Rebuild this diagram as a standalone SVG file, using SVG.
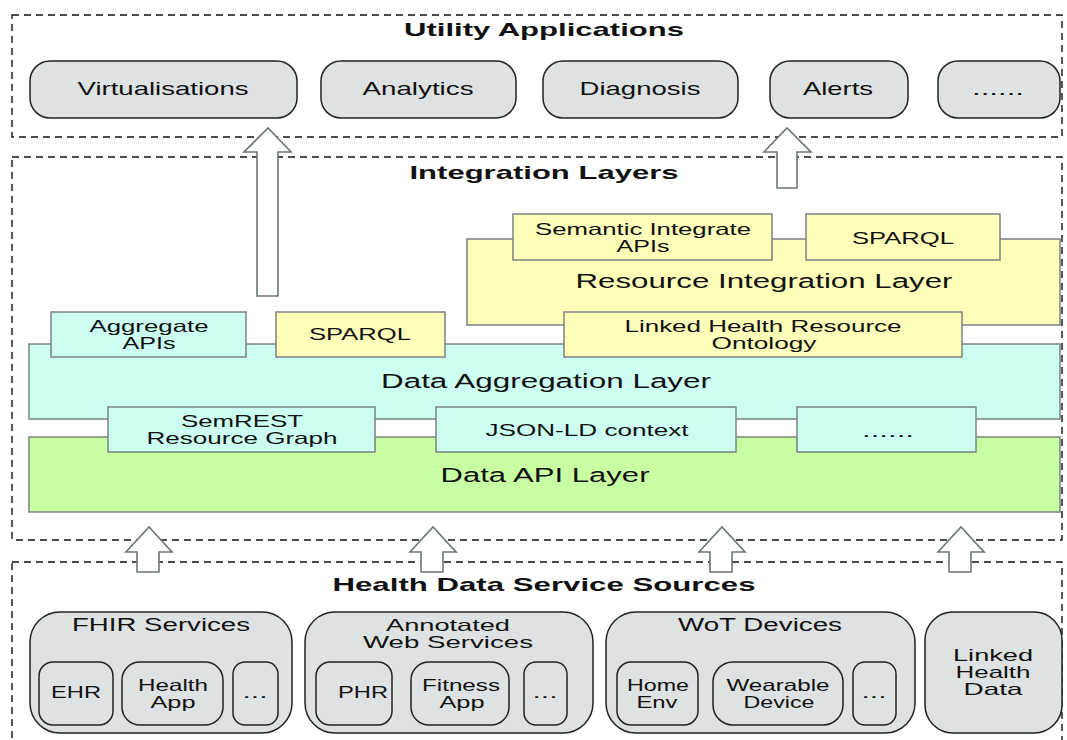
<svg xmlns="http://www.w3.org/2000/svg" width="1067" height="740" viewBox="0 0 1067 740">
  <style>
    text { font-family: "Liberation Sans", Arial, sans-serif; fill: #111; text-anchor: middle; }
    .title { font-weight: bold; font-size: 19px; }
    .app { font-size: 19px; }
    .layer-txt { font-size: 20px; }
    .box-txt { font-size: 16.5px; }
    .src-txt { font-size: 18px; }
    .src-multi { font-size: 16.5px; }
    .inner-txt { font-size: 16.5px; }
    .zone { fill: none; stroke: #111; stroke-width: 1.4; stroke-dasharray: 7 5; }
    .pill { fill: #dfe2e2; stroke: #222; stroke-width: 1.5; }
    .cyan { fill: #ccfff2; stroke: #7a8282; stroke-width: 1.5; }
    .yellow { fill: #ffffb9; stroke: #7a8282; stroke-width: 1.5; }
    .green { fill: #c9ffa3; stroke: #7a8282; stroke-width: 1.5; }
    .harrow { fill: #ffffff; stroke: #6d7676; stroke-width: 1.6; stroke-linejoin: miter; }
  </style>

  <rect width="1067" height="740" fill="#ffffff"/>

  <!-- Zone frames -->
  <g id="zones">
    <rect class="zone" x="12" y="15" width="1050" height="122"/>
    <rect class="zone" x="12" y="157" width="1050" height="383"/>
    <rect class="zone" x="12" y="562" width="1050" height="190"/>
  </g>

  <!-- Utility Applications -->
  <g id="utility-applications">
    <text class="title" x="544" y="36" textLength="280" lengthAdjust="spacingAndGlyphs">Utility Applications</text>
    <g id="app-virtualisations">
      <rect class="pill" x="30" y="61" width="267" height="57" rx="20"/>
      <text class="app" x="163" y="95" textLength="171" lengthAdjust="spacingAndGlyphs">Virtualisations</text>
    </g>
    <g id="app-analytics">
      <rect class="pill" x="321" y="61" width="195" height="57" rx="20"/>
      <text class="app" x="418" y="95" textLength="111" lengthAdjust="spacingAndGlyphs">Analytics</text>
    </g>
    <g id="app-diagnosis">
      <rect class="pill" x="543" y="61" width="195" height="57" rx="20"/>
      <text class="app" x="640" y="95" textLength="121" lengthAdjust="spacingAndGlyphs">Diagnosis</text>
    </g>
    <g id="app-alerts">
      <rect class="pill" x="770" y="61" width="138" height="57" rx="20"/>
      <text class="app" x="838" y="95" textLength="70" lengthAdjust="spacingAndGlyphs">Alerts</text>
    </g>
    <g id="app-more">
      <rect class="pill" x="938" y="61" width="122" height="57" rx="20"/>
      <text class="app" x="998" y="95" textLength="52" lengthAdjust="spacingAndGlyphs">......</text>
    </g>
  </g>

  <!-- Integration Layers -->
  <g id="integration-layers">
    <text class="title" x="544" y="179" textLength="269" lengthAdjust="spacingAndGlyphs">Integration Layers</text>

    <g id="data-api-layer">
      <rect class="green" x="29" y="437" width="1031" height="75"/>
      <text class="layer-txt" x="545" y="482" textLength="209" lengthAdjust="spacingAndGlyphs">Data API Layer</text>
    </g>

    <g id="data-aggregation-layer">
      <rect class="cyan" x="29" y="344" width="1031" height="75"/>
      <text class="layer-txt" x="546" y="388" textLength="330" lengthAdjust="spacingAndGlyphs">Data Aggregation Layer</text>
    </g>

    <g id="semrest-graph">
      <rect class="cyan" x="108" y="407" width="267" height="45"/>
      <text class="box-txt" x="242" y="427" textLength="122" lengthAdjust="spacingAndGlyphs">SemREST</text>
      <text class="box-txt" x="242" y="444" textLength="191" lengthAdjust="spacingAndGlyphs">Resource Graph</text>
    </g>
    <g id="jsonld-context">
      <rect class="cyan" x="436" y="407" width="300" height="45"/>
      <text class="box-txt" x="587" y="436" textLength="203" lengthAdjust="spacingAndGlyphs">JSON-LD context</text>
    </g>
    <g id="api-more">
      <rect class="cyan" x="797" y="407" width="179" height="45"/>
      <text class="box-txt" x="888" y="437" textLength="52" lengthAdjust="spacingAndGlyphs">......</text>
    </g>

    <g id="resource-integration-layer">
      <rect class="yellow" x="467" y="239" width="593" height="86"/>
      <text class="layer-txt" x="764" y="288" textLength="377" lengthAdjust="spacingAndGlyphs">Resource Integration Layer</text>
    </g>
    <g id="semantic-integrate-apis">
      <rect class="yellow" x="513" y="214" width="259" height="46"/>
      <text class="box-txt" x="643" y="235" textLength="216" lengthAdjust="spacingAndGlyphs">Semantic Integrate</text>
      <text class="box-txt" x="643" y="252" textLength="53" lengthAdjust="spacingAndGlyphs">APIs</text>
    </g>
    <g id="sparql-integration">
      <rect class="yellow" x="806" y="214" width="194" height="46"/>
      <text class="box-txt" x="903" y="244" textLength="102" lengthAdjust="spacingAndGlyphs">SPARQL</text>
    </g>

    <g id="aggregate-apis">
      <rect class="cyan" x="51" y="312" width="195" height="45"/>
      <text class="box-txt" x="149" y="332" textLength="119" lengthAdjust="spacingAndGlyphs">Aggregate</text>
      <text class="box-txt" x="149" y="349" textLength="53" lengthAdjust="spacingAndGlyphs">APIs</text>
    </g>
    <g id="sparql-aggregation">
      <rect class="yellow" x="276" y="312" width="169" height="45"/>
      <text class="box-txt" x="360" y="340" textLength="102" lengthAdjust="spacingAndGlyphs">SPARQL</text>
    </g>
    <g id="linked-health-ontology">
      <rect class="yellow" x="564" y="312" width="398" height="45"/>
      <text class="box-txt" x="763" y="332" textLength="277" lengthAdjust="spacingAndGlyphs">Linked Health Resource</text>
      <text class="box-txt" x="764" y="349" textLength="105" lengthAdjust="spacingAndGlyphs">Ontology</text>
    </g>
  </g>

  <!-- Health Data Service Sources -->
  <g id="health-data-sources">
    <text class="title" x="544" y="591" textLength="423" lengthAdjust="spacingAndGlyphs">Health Data Service Sources</text>

    <g id="fhir-services">
      <rect class="pill" x="30" y="612" width="262" height="121" rx="30"/>
      <text class="src-txt" x="161" y="631" textLength="178" lengthAdjust="spacingAndGlyphs">FHIR Services</text>
      <rect class="pill" x="39" y="662" width="74" height="63" rx="14"/>
      <text class="inner-txt" x="76" y="698" textLength="50" lengthAdjust="spacingAndGlyphs">EHR</text>
      <rect class="pill" x="122" y="662" width="101" height="63" rx="18"/>
      <text class="inner-txt" x="173" y="691" textLength="70" lengthAdjust="spacingAndGlyphs">Health</text>
      <text class="inner-txt" x="173" y="708" textLength="45" lengthAdjust="spacingAndGlyphs">App</text>
      <rect class="pill" x="233" y="662" width="45" height="63" rx="12"/>
      <text class="inner-txt" x="255" y="698" textLength="25" lengthAdjust="spacingAndGlyphs">...</text>
    </g>

    <g id="annotated-web-services">
      <rect class="pill" x="305" y="612" width="288" height="121" rx="30"/>
      <text class="src-multi" x="448" y="631" textLength="124" lengthAdjust="spacingAndGlyphs">Annotated</text>
      <text class="src-multi" x="448" y="648" textLength="170" lengthAdjust="spacingAndGlyphs">Web Services</text>
      <rect class="pill" x="316" y="662" width="76" height="63" rx="14"/>
      <text class="inner-txt" x="363" y="698" textLength="50" lengthAdjust="spacingAndGlyphs">PHR</text>
      <rect class="pill" x="411" y="662" width="98" height="63" rx="18"/>
      <text class="inner-txt" x="461" y="691" textLength="78" lengthAdjust="spacingAndGlyphs">Fitness</text>
      <text class="inner-txt" x="462" y="708" textLength="45" lengthAdjust="spacingAndGlyphs">App</text>
      <rect class="pill" x="524" y="662" width="43" height="63" rx="12"/>
      <text class="inner-txt" x="545" y="698" textLength="25" lengthAdjust="spacingAndGlyphs">...</text>
    </g>

    <g id="wot-devices">
      <rect class="pill" x="606" y="612" width="309" height="121" rx="30"/>
      <text class="src-txt" x="760" y="631" textLength="164" lengthAdjust="spacingAndGlyphs">WoT Devices</text>
      <rect class="pill" x="617" y="662" width="81" height="63" rx="14"/>
      <text class="inner-txt" x="658" y="691" textLength="62" lengthAdjust="spacingAndGlyphs">Home</text>
      <text class="inner-txt" x="657" y="708" textLength="41" lengthAdjust="spacingAndGlyphs">Env</text>
      <rect class="pill" x="713" y="662" width="130" height="63" rx="20"/>
      <text class="inner-txt" x="778" y="691" textLength="103" lengthAdjust="spacingAndGlyphs">Wearable</text>
      <text class="inner-txt" x="779" y="708" textLength="71" lengthAdjust="spacingAndGlyphs">Device</text>
      <rect class="pill" x="853" y="662" width="43" height="63" rx="12"/>
      <text class="inner-txt" x="874" y="698" textLength="25" lengthAdjust="spacingAndGlyphs">...</text>
    </g>

    <g id="linked-health-data">
      <rect class="pill" x="925" y="612" width="137" height="121" rx="28"/>
      <text class="src-multi" x="993" y="661" textLength="80" lengthAdjust="spacingAndGlyphs">Linked</text>
      <text class="src-multi" x="993" y="678" textLength="75" lengthAdjust="spacingAndGlyphs">Health</text>
      <text class="src-multi" x="993" y="695" textLength="59" lengthAdjust="spacingAndGlyphs">Data</text>
    </g>
  </g>

  <!-- Connectors: hollow block arrows -->
  <g id="connectors">
    <path class="harrow" d="M257,296 L257,152 L244,152 L268,128 L291,152 L278,152 L278,296 Z"/>
    <path class="harrow" d="M777,188 L777,152 L764,152 L787,128 L811,152 L797,152 L797,188 Z"/>
    <path class="harrow" d="M137,572 L137,552 L126,552 L149,527 L172,552 L159,552 L159,572 Z"/>
    <path class="harrow" d="M421,572 L421,552 L410,552 L433,527 L456,552 L443,552 L443,572 Z"/>
    <path class="harrow" d="M710,572 L710,552 L699,552 L722,527 L745,552 L732,552 L732,572 Z"/>
    <path class="harrow" d="M949,572 L949,552 L938,552 L961,527 L984,552 L971,552 L971,572 Z"/>
  </g>
</svg>
